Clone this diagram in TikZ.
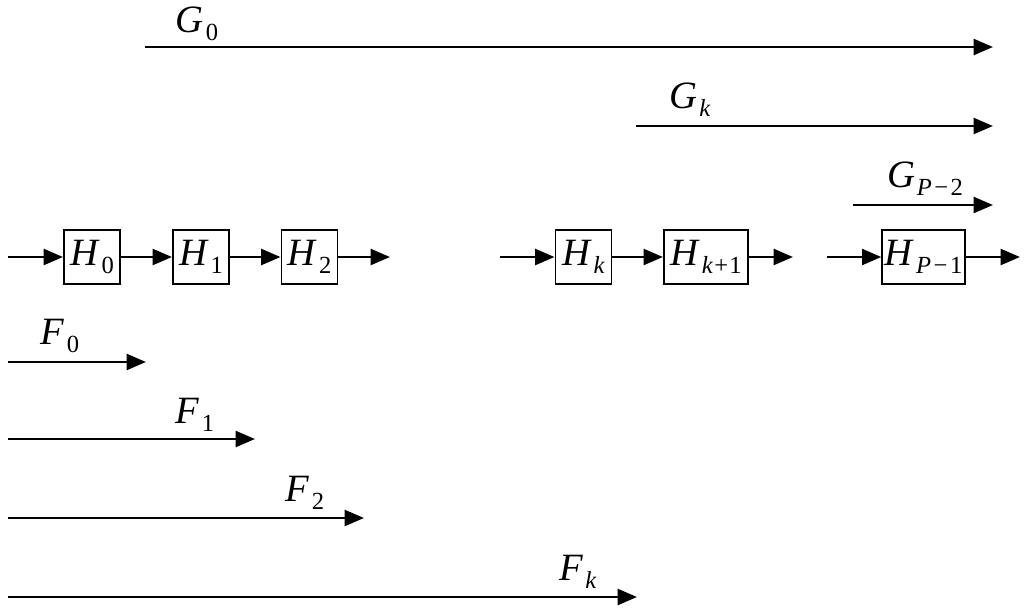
\documentclass[tikz,border=0pt]{standalone}
\usepackage{fontspec}
\setmainfont{Liberation Serif}
\usetikzlibrary{arrows.meta}
\newcommand{\lb}[2]{\textit{#1}\kern0.05em\raisebox{-0.45ex}{\fontsize{14}{14}\selectfont #2}}
\tikzset{
  ar/.style={line width=1.6pt,-{Triangle[length=11pt,width=9pt]}},
  hb/.style={draw,line width=1pt,minimum height=31pt,inner sep=0pt,font=\fontsize{22}{22}\selectfont},
  lbl/.style={font=\fontsize{22}{22}\selectfont,inner sep=0pt}
}
\begin{document}
\begin{tikzpicture}[x=0.02cm,y=-0.02cm]
\useasboundingbox (0,0) rectangle (1024,609);
% G arrows
\coordinate (g0a) at (145,47); \coordinate (g0b) at (993,47);
\draw[ar] (g0a) -- (g0b); \node[lbl] (lg0) at (197,24) {\lb{G}{0}};
\coordinate (gka) at (636,126); \coordinate (gkb) at (993,126);
\draw[ar] (gka) -- (gkb); \node[lbl] (lgk) at (690,100) {\lb{G}{\textit{k}}};
\coordinate (gpa) at (853,205); \coordinate (gpb) at (993,205);
\draw[ar] (gpa) -- (gpb); \node[lbl] (lgp) at (925,179) {\lb{G}{\textit{P}\kern0.1em−\kern0.1em2}};
% boxes
\node[hb,minimum width=32pt] (h0) at (92,257) {\lb{H}{0}};
\node[hb,minimum width=32pt] (h1) at (201,257) {\lb{H}{1}};
\node[hb,minimum width=32pt] (h2) at (309.5,257) {\lb{H}{2}};
\node[hb,minimum width=32pt] (hk) at (583.5,257) {\lb{H}{\textit{k}}};
\node[hb,minimum width=48pt] (hk1) at (706,257) {\lb{H}{\textit{k}\kern0.05em+\kern0.05em1}};
\node[hb,minimum width=47pt] (hp) at (923.5,257) {\lb{H}{\textit{P}\kern0.1em−\kern0.1em1}};
\coordinate (i0) at (8,257); \coordinate (o2) at (390,257);
\coordinate (ik) at (500,257); \coordinate (ok1) at (793,257);
\coordinate (ip) at (827,257); \coordinate (op) at (1020,257);
\draw[ar] (i0) -- (h0); \draw[ar] (h0) -- (h1); \draw[ar] (h1) -- (h2); \draw[ar] (h2) -- (o2);
\draw[ar] (ik) -- (hk); \draw[ar] (hk) -- (hk1); \draw[ar] (hk1) -- (ok1);
\draw[ar] (ip) -- (hp); \draw[ar] (hp) -- (op);
% F arrows
\coordinate (f0a) at (8,362); \coordinate (f0b) at (146,362);
\draw[ar] (f0a) -- (f0b); \node[lbl] (lf0) at (60,336) {\lb{F}{0}};
\coordinate (f1a) at (8,439); \coordinate (f1b) at (255,439);
\draw[ar] (f1a) -- (f1b); \node[lbl] (lf1) at (195,415) {\lb{F}{1}};
\coordinate (f2a) at (8,518); \coordinate (f2b) at (364,518);
\draw[ar] (f2a) -- (f2b); \node[lbl] (lf2) at (305,493) {\lb{F}{2}};
\coordinate (fka) at (8,597); \coordinate (fkb) at (637,597);
\draw[ar] (fka) -- (fkb); \node[lbl] (lfk) at (578,572) {\lb{F}{\textit{k}}};
\end{tikzpicture}
\end{document}
